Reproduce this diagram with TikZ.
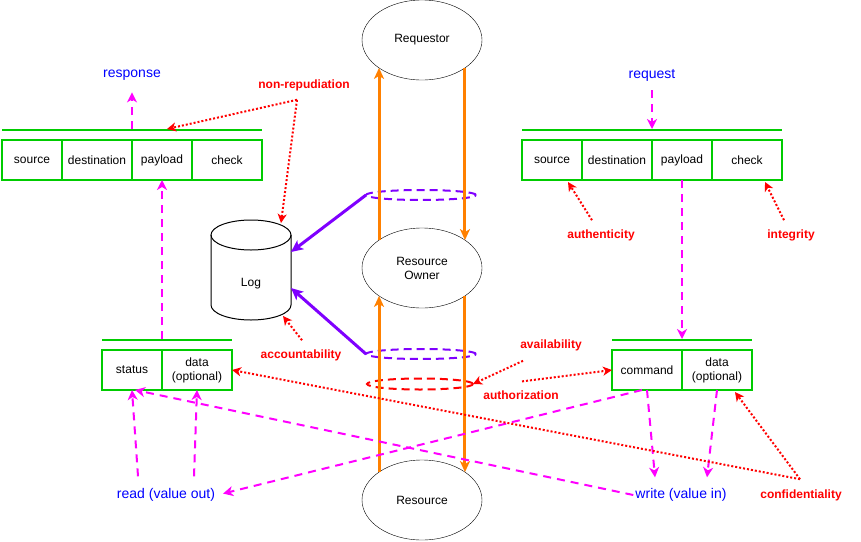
\documentclass[tikz,border=0pt]{standalone}
\usepackage{fontspec}
\setmainfont{Liberation Sans}
\usetikzlibrary{arrows.meta,positioning,calc,shapes.geometric}
\definecolor{pktgreen}{RGB}{0,204,0}
\definecolor{flowmag}{RGB}{255,0,255}
\definecolor{ioblue}{RGB}{0,0,255}
\definecolor{logpurple}{RGB}{127,0,255}
\definecolor{floworange}{RGB}{255,128,0}

\begin{document}
\begin{tikzpicture}[x=1pt, y=-1pt,
  fld/.style={draw=pktgreen, line width=2pt, minimum width=60pt, minimum height=40pt,
              inner sep=1pt, outer sep=0pt, align=center, font=\fontsize{12}{14}\selectfont},
  wide/.style={minimum width=70pt},
  bar/.style={fill=pktgreen, minimum height=2pt, inner sep=0pt, outer sep=0pt},
  party/.style={draw, ellipse, minimum width=120pt, minimum height=80pt, inner sep=0pt,
                outer sep=0pt, align=center, font=\fontsize{12}{14}\selectfont},
  ring/.style={draw, ellipse, line width=2pt, minimum width=110pt, minimum height=10pt,
               inner sep=0pt, outer sep=0pt, dash pattern=on 8pt off 5pt},
  io/.style={text=ioblue, font=\fontsize{14}{16}\selectfont, inner sep=2pt},
  risk/.style={text=red, font=\bfseries\fontsize{12}{14}\selectfont, inner sep=2pt},
  flow/.style={-{Stealth[length=11pt, width=10pt, inset=3pt]}, floworange, line width=3pt},
  dflow/.style={-{Stealth[length=10pt, width=10pt, inset=3pt]}, flowmag, line width=2pt,
                dash pattern=on 8pt off 6pt},
  tie/.style={-{Stealth[length=9pt, width=9pt, inset=2.5pt]}, red, line width=2pt,
              dash pattern=on 2pt off 2pt},
  logarr/.style={-{Stealth[length=12pt, width=11pt, inset=3pt]}, logpurple, line width=3pt}]
\useasboundingbox (0,0) rectangle (861,541);

\node[fld] (rsrc) at (32,160) {source};
\node[fld, wide, right=0pt of rsrc] (rdst) {destination};
\node[fld, right=0pt of rdst] (rpay) {payload};
\node[fld, wide, right=0pt of rpay] (rchk) {check};
\node[bar, minimum width=260pt] (rbar) at (132,130) {};

\node[fld] (qsrc) at (552,160) {source};
\node[fld, wide, right=0pt of qsrc] (qdst) {destination};
\node[fld, right=0pt of qdst] (qpay) {payload};
\node[fld, wide, right=0pt of qpay] (qchk) {check};
\node[bar, minimum width=260pt] (qbar) at (652,130) {};

\node[fld] (stat) at (132,370) {status};
\node[fld, wide, right=0pt of stat] (sdat) {data\\(optional)};
\node[bar, minimum width=130pt] (sbar) at (167,340) {};

\node[fld, wide] (cmd) at (647,370) {command};
\node[fld, wide, right=0pt of cmd] (cdat) {data\\(optional)};
\node[bar, minimum width=140pt] (cbar) at (682,340) {};

\node[party] (req) at (422,40) {Requestor};
\node[party] (own) at (422,268) {Resource\\Owner};
\node[party] (res) at (422,500) {Resource};

\node[minimum width=80pt, minimum height=100pt, inner sep=0pt, outer sep=0pt] (log) at (251,270) {};
\draw[line width=1pt] ($(log.north)+(0,15)$) ellipse [x radius=40, y radius=15];
\draw[line width=1pt] ($(log.north west)+(0,15)$) -- ($(log.south west)+(0,-15)$)
  arc[start angle=180, end angle=0, x radius=40, y radius=15] -- ($(log.north east)+(0,15)$);
\node[font=\fontsize{12}{14}\selectfont] (logtxt) at ($(log)+(0,14)$) {Log};

\node[ring, draw=logpurple] (pring1) at (421,195) {};
\node[ring, draw=logpurple] (pring2) at (421,354) {};
\node[ring, draw=red, minimum width=106pt, minimum height=11pt] (zring) at (420,384) {};

\node[io] (resp) at (132,75) {response};
\node[io] (reqt) at (652,75) {request};
\node[io] (read) at (166,495) {read (value out)};
\node[io] (write) at (681,495) {write (value in)};

\node[risk] (nrep) at (304,85) {non-repudiation};
\node[risk] (auth) at (601,235) {authenticity};
\node[risk] (integ) at (791,235) {integrity};
\node[risk] (acct) at (301,355) {accountability};
\node[risk] (avail) at (551,345) {availability};
\node[risk] (authz) at (521,395) {authorization};
\node[risk] (conf) at (801,495) {confidentiality};

\draw[flow] (res.147) -- (own.213);
\draw[flow] (own.147) -- (req.213);
\draw[flow] (req.327) -- (own.33);
\draw[flow] (own.327) -- (res.33);

\draw[logarr] (pring1.west) -- ($(log.east)+(0,-18)$);
\draw[logarr] (pring2.west) -- ($(log.east)+(0,18)$);

\draw[dflow] (rbar.north -| resp) -- ($(resp.south)+(0,10)$);
\draw[dflow] ($(reqt.south)+(0,7)$) -- (qbar.north -| reqt);
\draw[dflow] (qpay.south) -- (cbar.north -| qpay);
\draw[dflow] (sbar.north -| stat.east) -- (rpay.south);
\draw[dflow] ($(read.north)+(-28,-10)$) -- (stat.south);
\draw[dflow] ($(read.north)+(28,-10)$) -- (sdat.south);
\draw[dflow, shorten >=6pt] ($(cmd.south)+(-5,0)$) -- (read.east);
\draw[dflow] (write.west) -- ($(stat.south)+(3,0)$);
\draw[dflow] (cmd.south) -- ($(write.north)+(-26,-9)$);
\draw[dflow] (cdat.south) -- ($(write.north)+(26,-9)$);

\coordinate (nrepx) at ($(nrep.south)+(-7,7)$);
\draw[tie] (nrepx) -- ($(rbar.north -| rpay)+(5,0)$);
\draw[tie] (nrepx) -- ($(log.north east)+(-10,3)$);
\draw[tie] ($(acct.north)+(1,-7)$) -- ($(log.south east)+(-8,-4)$);
\draw[tie] ($(auth.north)+(-9,-7)$) -- ($(qsrc.south east)+(-14,2)$);
\draw[tie] ($(integ.north)+(-7,-7)$) -- ($(qchk.south east)+(-17,2)$);
\draw[tie] ($(avail.south)+(-28,8)$) -- (zring.east);
\draw[tie] ($(authz.north)+(1,-7)$) -- (cmd.west);
\coordinate (confx) at ($(conf.north)+(-1,-8)$);
\draw[tie] (confx) -- ($(cdat.south)+(18,2)$);
\draw[tie] (confx) -- (sdat.east);
\end{tikzpicture}
\end{document}
